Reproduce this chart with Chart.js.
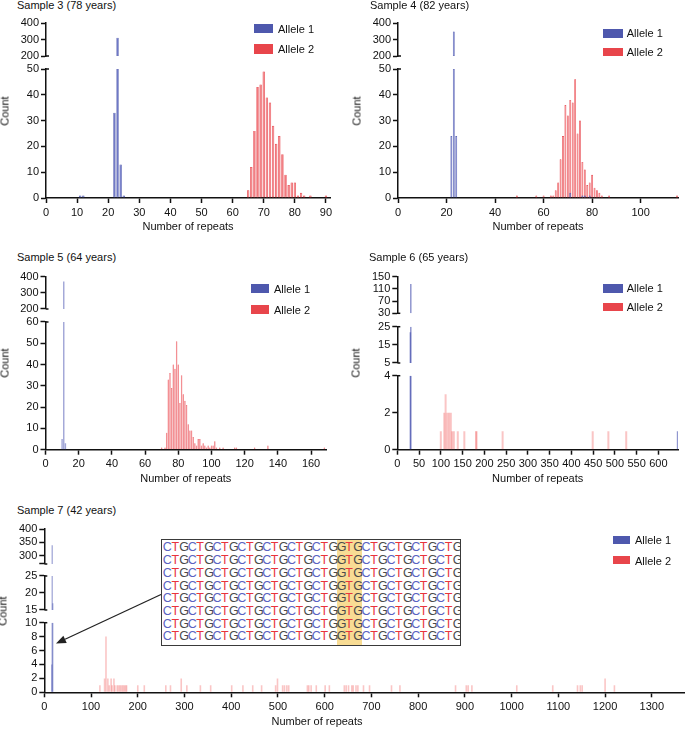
<!DOCTYPE html>
<html>
<head>
<meta charset="utf-8">
<title>Repeat length distributions, samples 3–7</title>
<script src="https://cdn.jsdelivr.net/npm/chart.js@4.4.1/dist/chart.umd.min.js"></script>
<style>
  html, body { margin:0; padding:0; background:#fff; }
  body { width:685px; height:729px; overflow:hidden; position:relative;
         font-family:"Liberation Sans", Arial, sans-serif; color:#111; }
  canvas { position:absolute; }
  .t { position:absolute; font-size:11px; line-height:13px; white-space:nowrap; }
  .ylab { position:absolute; font-size:11px; line-height:13px; white-space:nowrap;
          transform:translate(-50%,-50%) rotate(-90deg); }
  .sw { position:absolute; }
  #seq { position:absolute; left:161px; top:539px; width:298px; height:105px;
         border:1.5px solid #3a3a3a; background:#fff; overflow:hidden; }
  #seq .hl { position:absolute; top:0; height:105px; background:#f8dc94; }
  #seq .rows { position:absolute; left:0.8px; top:1.45px; }
  #seq .row { height:12.7px; line-height:12.7px; white-space:nowrap; font-size:12.5px; }
  #seq .row span { display:inline-block; width:8.29px; text-align:center; }
  #arrow { position:absolute; left:0; top:0; }
</style>
</head>
<body>
<script>
// ---------------- DATA ----------------
// Sample 3 (78 years)
const s3_a1_repeats = [11, 12, 22, 23, 24, 25];
const s3_a1_counts  = [1, 1, 33, 310, 13, 1];
const s3_a2_repeats = [65, 66, 67, 68, 69, 70, 71, 72, 73, 74, 75, 76, 77, 78, 79, 80, 81, 82, 83, 85, 90];
const s3_a2_counts  = [3, 12, 26, 43, 44, 49, 39, 37, 28, 21, 24, 17, 9, 5, 6, 6, 1, 2, 1, 1, 1];
const s3_xTicks = [0, 10, 20, 30, 40, 50, 60, 70, 80, 90];
const s3_yTicksUpper = [200, 300, 400];
const s3_yTicksLower = [0, 10, 20, 30, 40, 50];

// Sample 4 (82 years)
const s4_a1_repeats = [22, 23, 24, 71, 76, 77, 79];
const s4_a1_counts  = [24, 348, 24, 2, 1, 1, 1];
const s4_a2_repeats = [49, 57, 60, 63, 64, 65, 66, 67, 68, 69, 70, 71, 72, 73, 74, 75, 76, 77, 78, 79, 80, 81, 82, 83, 84, 87, 115];
const s4_a2_counts  = [1, 1, 1, 1, 1, 3, 6, 15, 24, 36, 32, 38, 37, 46, 25, 30, 14, 11, 5, 6, 9, 4, 3, 2, 1, 1, 1];
const s4_xTicks = [0, 20, 40, 60, 80, 100];
const s4_yTicksUpper = [200, 300, 400];
const s4_yTicksLower = [0, 10, 20, 30, 40, 50];

// Sample 5 (64 years)
const s5_a1_repeats = [10, 11, 12];
const s5_a1_counts  = [5, 371, 3];
const s5_a2_repeats = [70, 72, 73, 74, 75, 76, 77, 78, 79, 80, 81, 82, 83, 84, 85, 86, 87, 88, 89, 90,
                       91, 92, 93, 94, 95, 96, 97, 98, 99, 100, 101, 102, 103, 105, 107, 114, 115, 126, 134, 168];
const s5_a2_counts  = [1, 1, 8, 33, 36, 29, 40, 38, 51, 40, 22, 35, 26, 23, 21, 12, 9, 9, 6, 3,
                       2, 5, 5, 2, 3, 2, 1, 2, 1, 2, 2, 4, 1, 1, 1, 1, 1, 1, 2, 1];
const s5_xTicks = [0, 20, 40, 60, 80, 100, 120, 140, 160];
const s5_yTicksUpper = [200, 300, 400];
const s5_yTicksLower = [0, 10, 20, 30, 40, 50, 60];

// Sample 6 (65 years)
const s6_a1_repeats = [30, 31, 644];
const s6_a1_counts  = [22, 126, 1];
const s6_a2_repeats = [100, 108, 111, 115, 119, 123, 126, 130, 139, 154, 181, 182, 242, 449, 485, 526];
const s6_a2_counts  = [1, 2, 3, 2, 2, 2, 1, 1, 1, 1, 1, 1, 1, 1, 1, 1];
const s6_xTicks = [0, 50, 100, 150, 200, 250, 300, 350, 400, 450, 500, 550, 600];
const s6_yTicksUpper = [30, 70, 110, 150];
const s6_yTicksMiddle = [5, 15, 25];
const s6_yTicksLower = [0, 2, 4];

// Sample 7 (42 years)
const s7_a1_repeats = [16, 17, 18];
const s7_a1_counts  = [4, 340, 17];
const s7_a2_repeats = [119, 129, 132, 136, 139, 143, 145, 149, 151, 156, 159, 162, 165, 168, 171, 174, 176, 200, 214, 260,
                       270, 293, 305, 334, 356, 401, 425, 446, 465, 495, 499, 510, 514, 519, 523, 563, 566, 571, 582, 601,
                       610, 642, 646, 651, 658, 661, 667, 671, 683, 696, 743, 761, 880, 903, 907, 915, 1011, 1088, 1141, 1147,
                       1151, 1200, 1220];
const s7_a2_counts  = [1, 2, 8, 2, 1, 2, 1, 2, 1, 1, 1, 1, 1, 1, 1, 1, 1, 1, 1, 1,
                       1, 2, 1, 1, 1, 1, 1, 1, 1, 1, 2, 1, 1, 1, 1, 1, 1, 1, 1, 1,
                       1, 1, 1, 1, 1, 1, 1, 1, 1, 1, 1, 1, 1, 1, 1, 1, 1, 1, 1, 1,
                       1, 2, 1];
const s7_xTicks = [0, 100, 200, 300, 400, 500, 600, 700, 800, 900, 1000, 1100, 1200, 1300];
const s7_yTicksUpper = [270, 300, 350, 400];
const s7_yLabelsUpper = ['', '300', '350', '400'];
const s7_yTicksMiddle = [15, 20, 25];
const s7_yTicksLower = [0, 2, 4, 6, 8, 10];

const seqRow = 'CTGCTGCTGCTGCTGCTGCTGGTGCTGCTGCTGCTG';
const seqRowCount = 8;

// ---------------- RENDERING ----------------
Chart.defaults.font.family = '"Liberation Sans", Arial, sans-serif';
Chart.defaults.font.size = 11;
Chart.defaults.color = '#111';
const AX = '#111';
const W = 40, XH = 36;

function segBars(xs, cs, lo, hi) {
  const out = [];
  for (let i = 0; i < xs.length; i++) {
    if (cs[i] > lo) out.push({ x: xs[i], y: [lo, Math.min(cs[i], hi)] });
  }
  return out;
}

const capPlugin = {
  id: 'caps',
  afterDraw(chart) {
    const ys = Object.keys(chart.scales).filter(id => id !== 'x' && chart.scales[id].options.grid.display)
      .map(id => chart.scales[id]).sort((a, b) => a.top - b.top);
    const ctx = chart.ctx;
    ctx.save();
    ctx.strokeStyle = AX; ctx.lineWidth = 1.5;
    ys.forEach((s, i) => {
      const x = s.right;
      if (i > 0) { ctx.beginPath(); ctx.moveTo(x, s.top); ctx.lineTo(x + 3, s.top); ctx.stroke(); }
      if (i < ys.length - 1) { ctx.beginPath(); ctx.moveTo(x, s.bottom); ctx.lineTo(x + 3, s.bottom); ctx.stroke(); }
    });
    ctx.restore();
  }
};

function addText(cls, txt, left, top, extra) {
  const d = document.createElement('div');
  d.className = cls; d.textContent = txt;
  d.style.left = left + 'px'; d.style.top = top + 'px';
  if (extra) Object.assign(d.style, extra);
  document.body.appendChild(d);
  return d;
}

function buildPanel(p) {
  const c = p.canvas, a = p.area;
  const cv = document.createElement('canvas');
  cv.width = c.w; cv.height = c.h;
  Object.assign(cv.style, { left: c.x + 'px', top: c.y + 'px', width: c.w + 'px', height: c.h + 'px' });
  document.body.appendChild(cv);

  const scales = {
    x: {
      type: 'linear', position: 'bottom', min: 0, max: p.xMax, offset: false,
      afterBuildTicks: s => { s.ticks = p.xTicks.map(v => ({ value: v })); },
      afterFit: s => { s.height = XH; },
      grid: { display: true, drawOnChartArea: false, drawTicks: true, tickLength: 5, tickWidth: 1.5, tickColor: AX, offset: false },
      border: { display: true, color: AX, width: 1.5 },
      ticks: { autoSkip: false, maxRotation: 0, minRotation: 0, padding: 3, color: AX, callback: v => String(v) },
      title: { display: p.xTitle, text: 'Number of repeats', color: AX, padding: { top: 0, bottom: 0 } }
    }
  };
  let wgt = 100;
  p.segs.forEach((s, i) => {
    const id = 'y' + i;
    if (s.gap) {
      scales[id] = {
        type: 'linear', axis: 'y', position: 'left', stack: 'brk', stackWeight: s.gap, weight: wgt--,
        min: 0, max: 1, afterFit: sc => { sc.width = W; },
        grid: { display: false }, border: { display: false }, ticks: { display: false }
      };
      return;
    }
    scales[id] = {
      type: 'linear', axis: 'y', position: 'left', stack: 'brk', stackWeight: s.h, weight: wgt--,
      min: s.min, max: s.max,
      afterBuildTicks: sc => { sc.ticks = s.ticks.map(v => ({ value: v })); },
      afterFit: sc => { sc.width = W; },
      grid: { display: true, drawOnChartArea: false, drawTicks: true, tickLength: 5, tickWidth: 1.5, tickColor: AX },
      border: { display: true, color: AX, width: 1.5 },
      ticks: { autoSkip: false, padding: 2, color: AX,
               callback: (v, idx) => s.labels ? s.labels[idx] : String(v) }
    };
  });

  const datasets = [];
  [[p.a1, 'Allele 1', p.st.blue, p.st.blueEdge, p.st.tb], [p.a2, 'Allele 2', p.st.red, p.st.redEdge, p.st.tr]]
    .forEach(([al, name, col, edge, th]) => {
      p.segs.forEach((s, i) => {
        if (s.gap) return;
        datasets.push({
          label: name, data: segBars(al.x, al.c, s.min, s.max),
          xAxisID: 'x', yAxisID: 'y' + i,
          backgroundColor: col, borderColor: edge || col, borderWidth: edge ? p.st.bw : 0,
          borderSkipped: false, barThickness: th, grouped: false, inflateAmount: 0
        });
      });
    });

  new Chart(cv, {
    type: 'bar',
    data: { datasets },
    options: {
      responsive: false, animation: false, events: [],
      layout: { padding: { left: a.l - c.x - W, top: a.t - c.y, right: c.x + c.w - a.r, bottom: c.y + c.h - a.b - XH } },
      plugins: { legend: { display: false }, tooltip: { enabled: false } },
      scales
    },
    plugins: [capPlugin]
  });

  // title, y-axis label, legend (HTML text)
  addText('t', p.title, p.titlePos[0], p.titlePos[1]);
  addText('ylab', 'Count', Math.round(a.l - 41), Math.round((a.t + a.b) / 2));
  const L = p.legend;
  [['Allele 1', '#4e58ad', L.y1, L.s1], ['Allele 2', '#e8454b', L.y2, L.s2]].forEach(([txt, col, ty, sy]) => {
    const sw = document.createElement('div');
    sw.className = 'sw';
    Object.assign(sw.style, { left: L.sx + 'px', top: sy + 'px', width: L.sw + 'px', height: L.sh + 'px', background: col });
    document.body.appendChild(sw);
    addText('t', txt, L.tx, ty);
  });
}

const strong = { blue: 'rgb(104,114,196)', blueEdge: 'rgb(70,80,168)', red: 'rgb(242,118,122)', redEdge: 'rgb(228,58,66)' };

buildPanel({
  title: 'Sample 3 (78 years)', titlePos: [17, -1],
  canvas: { x: 0, y: 13, w: 345, h: 224 }, area: { l: 46, t: 23, r: 330, b: 198 },
  xMax: 91.3, xTicks: s3_xTicks, xTitle: true,
  segs: [{ min: 200, max: 400, ticks: s3_yTicksUpper, h: 33 }, { gap: 13 }, { min: 0, max: 50, ticks: s3_yTicksLower, h: 129 }],
  a1: { x: s3_a1_repeats, c: s3_a1_counts }, a2: { x: s3_a2_repeats, c: s3_a2_counts },
  st: { ...strong, tb: 2.4, tr: 2.4, bw: 0.7 },
  legend: { sx: 254, sw: 19, sh: 9.3, s1: 24, s2: 44.3, tx: 278, y1: 23, y2: 43 }
});

buildPanel({
  title: 'Sample 4 (82 years)', titlePos: [370, -1],
  canvas: { x: 340, y: 13, w: 345, h: 224 }, area: { l: 398, t: 23, r: 678, b: 198 },
  xMax: 115.4, xTicks: s4_xTicks, xTitle: true,
  segs: [{ min: 200, max: 400, ticks: s4_yTicksUpper, h: 33 }, { gap: 13 }, { min: 0, max: 50, ticks: s4_yTicksLower, h: 129 }],
  a1: { x: s4_a1_repeats, c: s4_a1_counts }, a2: { x: s4_a2_repeats, c: s4_a2_counts },
  st: { ...strong, tb: 1.9, tr: 1.9, bw: 0.6 },
  legend: { sx: 603, sw: 19.7, sh: 8.7, s1: 29, s2: 47.7, tx: 626.7, y1: 27.4, y2: 46.4 }
});

buildPanel({
  title: 'Sample 5 (64 years)', titlePos: [17, 251.4],
  canvas: { x: 0, y: 266, w: 340, h: 223 }, area: { l: 45.5, t: 276.7, r: 326, b: 449.7 },
  xMax: 169, xTicks: s5_xTicks, xTitle: true,
  segs: [{ min: 200, max: 400, ticks: s5_yTicksUpper, h: 32.3 }, { gap: 13 }, { min: 0, max: 60, ticks: s5_yTicksLower, h: 127.7 }],
  a1: { x: s5_a1_repeats, c: s5_a1_counts }, a2: { x: s5_a2_repeats, c: s5_a2_counts },
  st: { blue: 'rgba(80,90,180,0.55)', red: 'rgba(240,110,115,0.9)', redEdge: 'rgba(228,58,66,0.9)', tb: 1.4, tr: 1.5, bw: 0.4 },
  legend: { sx: 250.7, sw: 18.6, sh: 8.7, s1: 284, s2: 305, tx: 274, y1: 283, y2: 303.7 }
});

buildPanel({
  title: 'Sample 6 (65 years)', titlePos: [369, 251.4],
  canvas: { x: 340, y: 266, w: 345, h: 223 }, area: { l: 397.3, t: 276.7, r: 678, b: 449.7 },
  xMax: 645, xTicks: s6_xTicks, xTitle: true,
  segs: [{ min: 30, max: 150, ticks: s6_yTicksUpper, h: 36.6 }, { gap: 13.4 },
         { min: 5, max: 25, ticks: s6_yTicksMiddle, h: 36.3 }, { gap: 12.7 },
         { min: 0, max: 4, ticks: s6_yTicksLower, h: 74 }],
  a1: { x: s6_a1_repeats, c: s6_a1_counts }, a2: { x: s6_a2_repeats, c: s6_a2_counts },
  st: { blue: 'rgba(70,80,175,0.6)', red: 'rgba(240,90,90,0.35)', tb: 1.5, tr: 2 },
  legend: { sx: 603, sw: 19.7, sh: 8.7, s1: 284, s2: 302.7, tx: 626.7, y1: 282, y2: 301.4 }
});

buildPanel({
  title: 'Sample 7 (42 years)', titlePos: [17, 503.7],
  canvas: { x: 0, y: 519, w: 700, h: 210 }, area: { l: 44.3, t: 529, r: 685, b: 692.3 },
  xMax: 1371, xTicks: s7_xTicks, xTitle: false,
  segs: [{ min: 270, max: 400, ticks: s7_yTicksUpper, labels: s7_yLabelsUpper, h: 35 }, { gap: 12 },
         { min: 15, max: 25, ticks: s7_yTicksMiddle, h: 34 }, { gap: 12.7 },
         { min: 0, max: 10, ticks: s7_yTicksLower, h: 69.6 }],
  a1: { x: s7_a1_repeats, c: s7_a1_counts }, a2: { x: s7_a2_repeats, c: s7_a2_counts },
  st: { blue: 'rgba(80,90,180,0.45)', red: 'rgba(240,90,90,0.35)', tb: 1.5, tr: 1.6 },
  legend: { sx: 613.3, sw: 17, sh: 8, s1: 535.5, s2: 556, tx: 635, y1: 533.7, y2: 554.7 }
});
addText('t', 'Number of repeats', 317, 714.5, { transform: 'translateX(-50%)' });

// ---- sequence inset ----
(function () {
  const box = document.createElement('div');
  box.id = 'seq';
  const hl = document.createElement('div');
  hl.className = 'hl';
  const gtgIndex = seqRow.indexOf('GTG');
  hl.style.left = (0.8 + gtgIndex * 8.29) + 'px';
  hl.style.width = (3 * 8.29) + 'px';
  box.appendChild(hl);
  const rows = document.createElement('div');
  rows.className = 'rows';
  const colors = { C: '#5a63c2', T: '#e8343c', G: '#4a4a4a' };
  for (let r = 0; r < seqRowCount; r++) {
    const row = document.createElement('div');
    row.className = 'row';
    for (const ch of seqRow) {
      const s = document.createElement('span');
      s.textContent = ch; s.style.color = colors[ch];
      row.appendChild(s);
    }
    rows.appendChild(row);
  }
  box.appendChild(rows);
  document.body.appendChild(box);

  const ns = 'http://www.w3.org/2000/svg';
  const svg = document.createElementNS(ns, 'svg');
  svg.setAttribute('id', 'arrow');
  svg.setAttribute('width', '685'); svg.setAttribute('height', '729');
  const tip = [56, 643.5], start = [161, 594.5];
  const dx = tip[0] - start[0], dy = tip[1] - start[1], len = Math.hypot(dx, dy);
  const ux = dx / len, uy = dy / len, hlen = 10, hw = 4;
  const bx = tip[0] - ux * hlen, by = tip[1] - uy * hlen;
  const line = document.createElementNS(ns, 'line');
  line.setAttribute('x1', start[0]); line.setAttribute('y1', start[1]);
  line.setAttribute('x2', bx); line.setAttribute('y2', by);
  line.setAttribute('stroke', '#222'); line.setAttribute('stroke-width', '1.3');
  svg.appendChild(line);
  const poly = document.createElementNS(ns, 'polygon');
  poly.setAttribute('points', [tip, [bx - uy * hw, by + ux * hw], [bx + uy * hw, by - ux * hw]].map(q => q.join(',')).join(' '));
  poly.setAttribute('fill', '#222');
  svg.appendChild(poly);
  document.body.appendChild(svg);
})();
</script>
</body>
</html>
